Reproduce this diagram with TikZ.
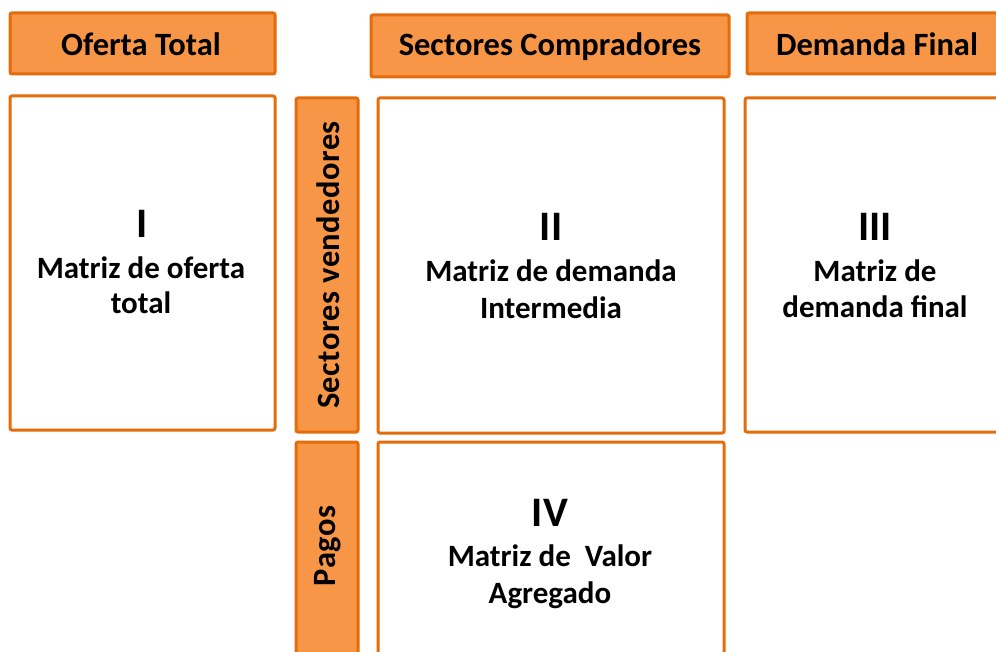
\documentclass[tikz,border=0pt]{standalone}
\usepackage{fontspec}
\setmainfont{Carlito}
\definecolor{ofill}{HTML}{F79646}
\definecolor{oline}{HTML}{E46C0A}
\tikzset{
  hdr/.style={draw=oline, fill=ofill, line width=3pt, rounded corners=2pt},
  cell/.style={draw=oline, fill=white, line width=3pt, rounded corners=2pt},
  num/.style={font=\bfseries\fontsize{42}{42}\selectfont, inner sep=0pt, anchor=base},
  txt/.style={font=\bfseries\fontsize{31}{34}\selectfont, inner sep=0pt, anchor=base},
  htxt/.style={font=\bfseries\fontsize{32.5}{34}\selectfont, inner sep=0pt},
  vtxt/.style={font=\bfseries\fontsize{32.5}{34}\selectfont\addfontfeature{LetterSpace=1.5}, inner sep=0pt, rotate=90},
}
\begin{document}
\begin{tikzpicture}[x=1pt,y=-1pt]
\useasboundingbox (0,0) rectangle (996,652);
% header boxes
\draw[hdr] (10,13) rectangle (275,74);
\node[htxt] (hOT) at (141,44.5) {Oferta Total};
\draw[hdr] (371,15) rectangle (729,77);
\node[htxt] (hSC) at (550,46.5) {Sectores Compradores};
\draw[hdr] (747,13) rectangle (1008,74);
\node[htxt] (hDF) at (877,44.5) {Demanda Final};
% side labels
\draw[hdr] (296,98) rectangle (358,432);
\node[vtxt] (hSV) at (328,265) {Sectores vendedores};
\draw[hdr] (296,442) rectangle (358,700);
\node[vtxt] (hPG) at (328,546) {Pagos};
% cells
\draw[cell] (10,96) rectangle (275,430);
\node[num] (n1) at (142.5,238) {I};
\node[txt] (t1a) at (141,279) {Matriz de oferta};
\node[txt] (t1b) at (141,314) {total};
\draw[cell] (378,98) rectangle (724,433);
\node[num] (n2) at (551,241) {II};
\node[txt] (t2a) at (551,282) {Matriz de demanda};
\node[txt] (t2b) at (551,319) {Intermedia};
\draw[cell] (745,98) rectangle (1006,432);
\node[num] (n3) at (875,241) {III};
\node[txt] (t3a) at (875,282) {Matriz de};
\node[txt] (t3b) at (875,318) {demanda final};
\draw[cell] (378,442) rectangle (724,700);
\node[num] (n4) at (550,526) {IV};
\node[txt] (t4a) at (550,566) {Matriz de\ \ Valor};
\node[txt] (t4b) at (550,603) {Agregado};
\end{tikzpicture}
\end{document}
